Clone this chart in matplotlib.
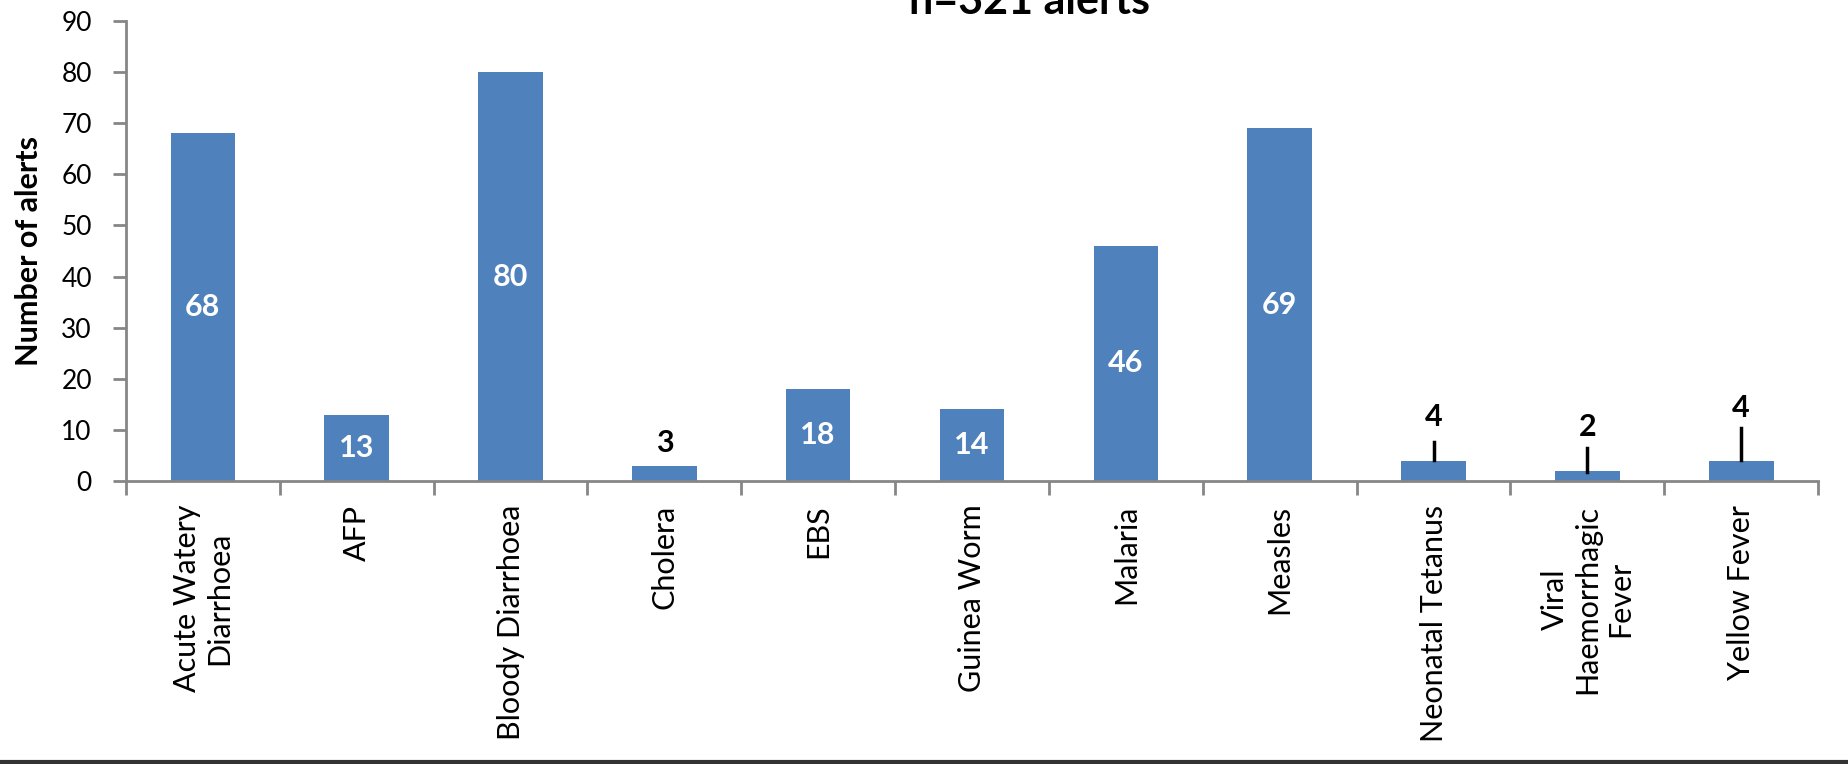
import matplotlib
matplotlib.use("Agg")
import matplotlib.pyplot as plt
import numpy as np

diseases = ["Acute Watery\nDiarrhoea", "AFP", "Bloody Diarrhoea", "Cholera", "EBS",
            "Guinea Worm", "Malaria", "Measles", "Neonatal Tetanus",
            "Viral\nHaemorrhagic\nFever", "Yellow Fever"]
alerts = [68, 13, 80, 3, 18, 14, 46, 69, 4, 2, 4]

plt.rcParams['font.family'] = ['Lato', 'DejaVu Sans']

bar_color = '#4F81BD'
axis_color = '#868686'

fig = plt.figure(figsize=(18.49, 7.64), dpi=100)
ax = fig.add_axes([0.0681, 0.3704, 0.9152, 0.6021])

x = np.arange(len(diseases))
ax.bar(x, alerts, width=0.42, color=bar_color, zorder=2)

ax.set_xlim(-0.5, len(diseases) - 0.5)
ax.set_ylim(0, 90)
ax.set_yticks(np.arange(0, 91, 10))
ax.tick_params(axis='y', labelsize=19, length=9.5, width=2, color=axis_color, pad=15)
ax.set_xticks(x)
ax.set_xticklabels(diseases, rotation=90, fontsize=22, ha='center', va='top',
                   multialignment='center')
ax.tick_params(axis='x', length=0, pad=17)
# category boundary ticks
ax.set_xticks(np.arange(len(diseases) + 1) - 0.5, minor=True)
ax.tick_params(axis='x', which='minor', length=10, width=2, color=axis_color)

for side in ['top', 'right']:
    ax.spines[side].set_visible(False)
for side in ['left', 'bottom']:
    ax.spines[side].set_color(axis_color)
    ax.spines[side].set_linewidth(2)

ax.set_ylabel("Number of alerts", fontsize=22, fontweight='bold')
ax.yaxis.set_label_coords(-0.049, 0.5)

# data labels: small bars get a black label above, some with a leader line
outside = {3: (7.4, None), 8: (12.5, (4.1, 7.6)), 9: (10.6, (1.8, 6.5)), 10: (14.3, (4.1, 10.4))}
for i, v in enumerate(alerts):
    if i in outside:
        ly, leader = outside[i]
        ax.text(i, ly, str(v), ha='center', va='center', fontsize=22,
                fontweight='bold', color='black')
        if leader:
            ax.plot([i, i], leader, color='black', lw=2.5, zorder=3)
    else:
        ax.text(i, v / 2, str(v), ha='center', va='center', fontsize=22,
                fontweight='bold', color='white', zorder=3)

fig.text(0.557, 0.982, "n=321 alerts", ha='center', va='baseline',
         fontsize=31, fontweight='bold')

fig.add_artist(plt.Line2D([0, 1], [0.002, 0.002], color='#333333', lw=3))

fig.savefig("out.png", dpi=100)
